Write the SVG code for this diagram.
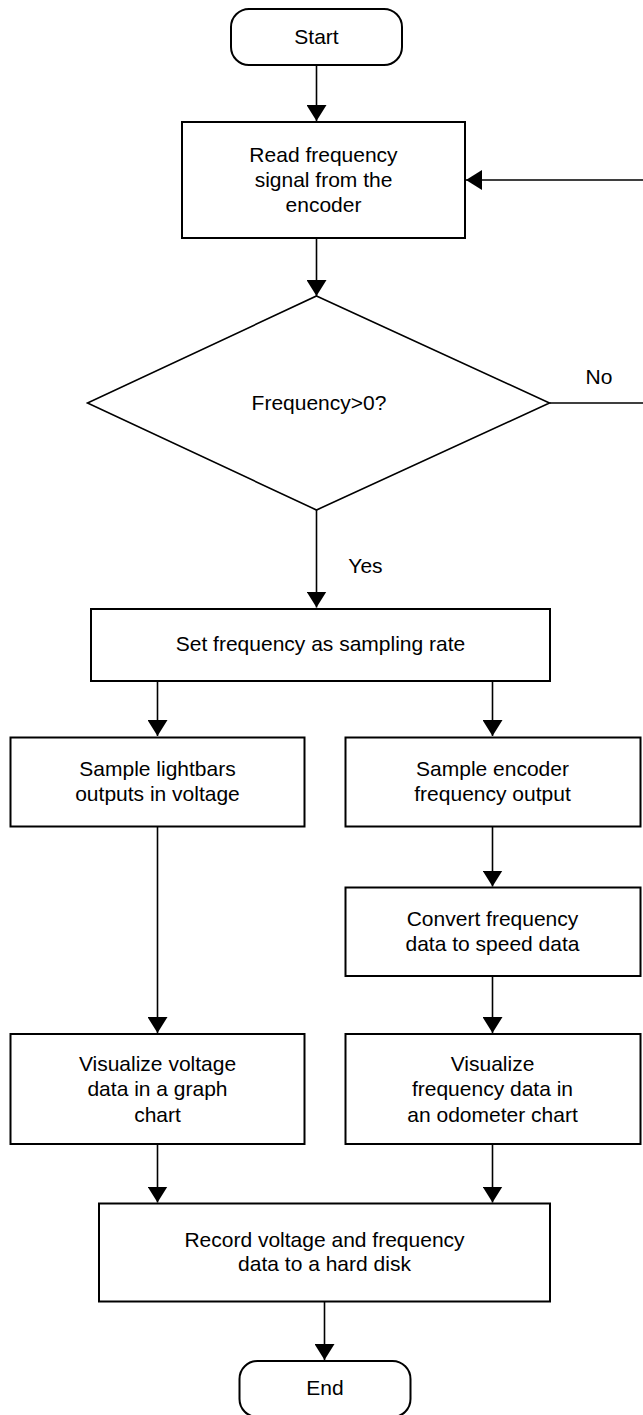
<svg xmlns="http://www.w3.org/2000/svg" width="643" height="1415" viewBox="0 0 643 1415">
<style>
.box{fill:#fff;stroke:#000;stroke-width:2}
.dia{fill:#fff;stroke:#000;stroke-width:1.6}
.edge{fill:none;stroke:#000;stroke-width:1.6}
text{font-family:"Liberation Sans",Arial,Helvetica,sans-serif;font-size:21px;fill:#000;text-anchor:middle}
.lbl{text-anchor:middle}
</style>
<defs>
<marker id="arr" viewBox="0 0 16 20" refX="16" refY="10" markerWidth="16" markerHeight="20" markerUnits="userSpaceOnUse" orient="auto">
<path d="M0,0 L16,10 L0,20 Z" fill="#000"/>
</marker>
</defs>
<rect width="643" height="1415" fill="#fff"/>
<g id="connectors">
<path class="edge" d="M316.5,65 V121" marker-end="url(#arr)"/>
<path class="edge" d="M316.5,238 V296" marker-end="url(#arr)"/>
<path class="edge" d="M549.5,403 H660 V180 H466" marker-end="url(#arr)"/>
<path class="edge" d="M316.5,510 V607.5" marker-end="url(#arr)"/>
<path class="edge" d="M157.5,681 V736" marker-end="url(#arr)"/>
<path class="edge" d="M492.5,681 V736" marker-end="url(#arr)"/>
<path class="edge" d="M157.5,826.5 V1033" marker-end="url(#arr)"/>
<path class="edge" d="M492.5,826.5 V886.5" marker-end="url(#arr)"/>
<path class="edge" d="M492.5,976 V1033" marker-end="url(#arr)"/>
<path class="edge" d="M157.5,1144 V1202.5" marker-end="url(#arr)"/>
<path class="edge" d="M492.5,1144 V1202.5" marker-end="url(#arr)"/>
<path class="edge" d="M324.5,1301.5 V1360" marker-end="url(#arr)"/>
<text x="599" y="383.5">No</text>
<text x="365.5" y="572.7">Yes</text>
</g>
<g id="start">
<rect class="box" x="231" y="9" width="171" height="56" rx="18" ry="18"/>
<text x="316.5" y="43.5">Start</text>
</g>
<g id="read">
<rect class="box" x="182" y="122" width="283" height="116"/>
<text x="323.5" y="161.7">Read frequency</text>
<text x="323.5" y="186.7">signal from the</text>
<text x="323.5" y="211.7">encoder</text>
</g>
<g id="decision">
<polygon class="dia" points="316.5,296 549.5,403 316.5,510 87.5,403"/>
<text x="319" y="409.5">Frequency&gt;0?</text>
</g>
<g id="setrate">
<rect class="box" x="91" y="609" width="459" height="72"/>
<text x="320.5" y="651">Set frequency as sampling rate</text>
</g>
<g id="samplelight">
<rect class="box" x="10.5" y="737.5" width="294" height="89"/>
<text x="157.5" y="776">Sample lightbars</text>
<text x="157.5" y="800.7">outputs in voltage</text>
</g>
<g id="sampleenc">
<rect class="box" x="345.5" y="737.5" width="295" height="89"/>
<text x="492.5" y="776">Sample encoder</text>
<text x="492.5" y="800.7">frequency output</text>
</g>
<g id="convert">
<rect class="box" x="345.5" y="887.5" width="295" height="88.5"/>
<text x="492.5" y="926">Convert frequency</text>
<text x="492.5" y="950.7">data to speed data</text>
</g>
<g id="visvolt">
<rect class="box" x="10.5" y="1034" width="294" height="110"/>
<text x="157.5" y="1071">Visualize voltage</text>
<text x="157.5" y="1096.3">data in a graph</text>
<text x="157.5" y="1121.7">chart</text>
</g>
<g id="visfreq">
<rect class="box" x="345.5" y="1034" width="295" height="110"/>
<text x="492.5" y="1071">Visualize</text>
<text x="492.5" y="1096.3">frequency data in</text>
<text x="492.5" y="1121.7">an odometer chart</text>
</g>
<g id="record">
<rect class="box" x="99" y="1203.5" width="451" height="98"/>
<text x="324.5" y="1246.7">Record voltage and frequency</text>
<text x="324.5" y="1271">data to a hard disk</text>
</g>
<g id="end">
<rect class="box" x="239.5" y="1361" width="171" height="56" rx="18" ry="18"/>
<text x="325" y="1395">End</text>
</g>
</svg>
